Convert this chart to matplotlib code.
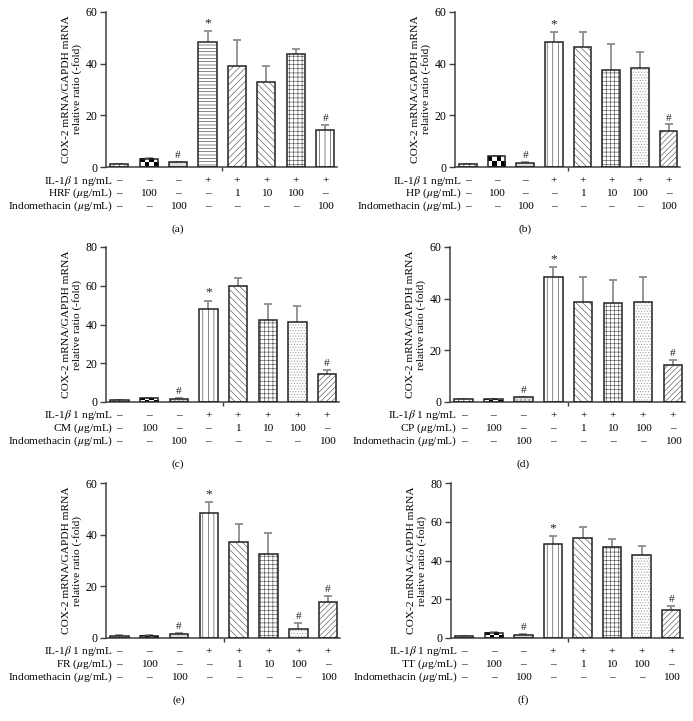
import matplotlib
matplotlib.use("Agg")
import matplotlib.pyplot as plt
import numpy as np

plt.rcParams['font.family'] = "Liberation Serif"
plt.rcParams['mathtext.fontset'] = "stix"
plt.rcParams['hatch.linewidth'] = 0.45

# data (mean, upper error)
means_a = [1.0, 3.2, 1.8, 48.4, 39.2, 32.8, 43.6, 14.3]
errs_a = [0.2, 0.3, 0.3, 4.1, 10.1, 6.4, 2.1, 2.1]
means_b = [1.0, 4.1, 1.6, 48.2, 46.4, 37.4, 38.2, 14.1]
errs_b = [0.2, 0.3, 0.3, 4.1, 5.8, 10.1, 6.2, 2.4]
means_c = [1.0, 2.0, 1.6, 48.2, 60.1, 42.5, 41.3, 14.3]
errs_c = [0.2, 0.3, 0.3, 4.1, 3.9, 8.3, 8.3, 2.1]
means_d = [1.0, 1.0, 1.8, 48.3, 38.7, 38.3, 38.7, 14.2]
errs_d = [0.2, 0.2, 0.3, 4.0, 9.6, 8.9, 9.8, 2.2]
means_e = [0.8, 0.9, 1.7, 48.3, 37.3, 32.5, 3.6, 14.0]
errs_e = [0.2, 0.3, 0.3, 4.2, 6.7, 8.3, 2.2, 2.2]
means_f = [0.9, 2.6, 1.7, 48.5, 51.8, 46.8, 42.7, 14.3]
errs_f = [0.2, 0.3, 0.3, 4.0, 5.5, 4.5, 5.0, 2.2]

extracts = ["HRF", "HP", "CM", "CP", "FR", "TT"]
ymax = [60, 60, 80, 60, 60, 80]
panel_tags = ["(a)", "(b)", "(c)", "(d)", "(e)", "(f)"]

il1b_row = ["–", "–", "–", "+", "+", "+", "+", "+"]
extract_row = ["–", "100", "–", "–", "1", "10", "100", "–"]
indo_row = ["–", "–", "100", "–", "–", "–", "–", "100"]

# significance marks per panel
marks_a = ["", "", "#", "*", "", "", "", "#"]
marks_e = ["", "", "#", "*", "", "", "#", "#"]

all_means = [means_a, means_b, means_c, means_d, means_e, means_f]
all_errs = [errs_a, errs_b, errs_c, errs_d, errs_e, errs_f]
all_marks = [marks_a, marks_a, marks_a, marks_a, marks_e, marks_a]

# styles
hatch_a = ["|||", "", "....", "-----", "/////", "\\\\\\\\\\", "++++", "|||"]
hatch_rest = ["|||", "", "....", "|||", "\\\\\\\\\\", "++++", "......", "//////"]
hatchcol_a = ["#222", "#222", "#888", "#444", "#555", "#555", "#555", "#444"]
hatchcol_rest = ["#222", "#222", "#888", "#444", "#555", "#555", "#9a9a9a", "#555"]
face = ["white", "black", "#dcdcdc", "white", "white", "white", "white", "white"]

# axes boxes in pixels: left, right, top, bottom
W, H = 693, 721
boxes = [(106, 337, 12, 167), (455, 680, 12, 167),
         (106, 339, 247, 402), (450, 685, 247, 402),
         (106, 340, 483, 638), (451, 683, 483, 638)]

fig = plt.figure(figsize=(W / 100, H / 100), dpi=100)
fs = 8.2
x = np.arange(8)
width = 0.62

for i in range(6):
    l, r, t, b = boxes[i]
    ax = fig.add_axes([l / W, 1 - b / H, (r - l) / W, (b - t) / H])
    means = all_means[i]
    errs = all_errs[i]
    hatches = hatch_a if i == 0 else hatch_rest
    hcols = hatchcol_a if i == 0 else hatchcol_rest

    bars = ax.bar(x, means, width, color=face, linewidth=0, zorder=2)
    for p, h, hc in zip(bars, hatches, hcols):
        p.set_hatch(h)
        p.set_edgecolor(hc)

    # checkerboard for the extract-only bar
    p = bars[1]
    checker = np.indices((2, 4)).sum(axis=0) % 2
    ax.imshow(checker, cmap="gray", interpolation="nearest", aspect="auto",
              extent=(p.get_x(), p.get_x() + p.get_width(), 0, p.get_height()),
              zorder=2.5)

    ax.bar(x, means, width, fill=False, edgecolor="#222222", linewidth=1.1, zorder=3)

    eb = ax.errorbar(x, means, yerr=[np.zeros(8), errs], fmt="none",
                     ecolor="#8c8c8c", elinewidth=1.3, capsize=3.2,
                     capthick=1.3, zorder=1)
    caps = eb[1]
    caps[0].set_visible(False)
    caps[1].set_color("#111111")

    for xi, m, e, mk in zip(x, means, errs, all_marks[i]):
        if mk:
            ax.text(xi, m + e + ymax[i] * 0.012, mk, ha="center", va="bottom",
                    fontsize=fs + (1.5 if mk == "*" else 0), color="#222")

    ax.set_xlim(-0.45, 7.4)
    ax.set_ylim(0, ymax[i])
    ax.set_yticks(np.arange(0, ymax[i] + 1, 20))
    ax.set_xticks([3.5])
    ax.set_xticklabels([])
    ax.tick_params(axis="x", length=3, width=1, color="#404040")
    ax.tick_params(axis="y", length=4, width=1, color="#404040", labelsize=fs + 0.3, pad=2)
    for s in ["top", "right"]:
        ax.spines[s].set_visible(False)
    for s in ["left", "bottom"]:
        ax.spines[s].set_color("#404040")
        ax.spines[s].set_linewidth(1.1)

    ax.set_ylabel("COX-2 mRNA/GAPDH mRNA\nrelative ratio (-fold)", fontsize=fs,
                  linespacing=1.1)
    ax.yaxis.set_label_coords(-24 / (r - l), 0.5)

    hpx = b - t
    rows = [("IL-1$\\beta$ 1 ng/mL", il1b_row),
            (extracts[i] + " ($\\mu$g/mL)", extract_row),
            ("Indomethacin ($\\mu$g/mL)", indo_row)]
    trans = ax.get_xaxis_transform()
    for k, (lab, vals) in enumerate(rows):
        yy = -(13.5 + 13 * k) / hpx
        ax.text(-0.22, yy, lab, transform=trans, ha="right", va="center",
                fontsize=fs, clip_on=False)
        for xi, v in zip(x, vals):
            ax.text(xi, yy, v, transform=trans, ha="center", va="center",
                    fontsize=fs, clip_on=False)
    ax.text(0.31, -62 / hpx, panel_tags[i], transform=ax.transAxes,
            ha="center", va="center", fontsize=fs)

fig.savefig("out.png", dpi=100)
